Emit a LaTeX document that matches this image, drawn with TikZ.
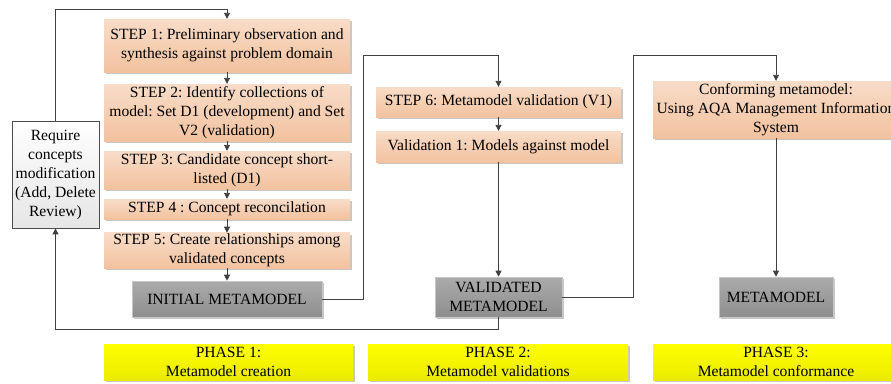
\documentclass[tikz,border=0pt]{standalone}
\usepackage{fontspec}
\setmainfont{Liberation Serif}
\frenchspacing
\usetikzlibrary{shadows,arrows.meta}
\definecolor{peachT}{HTML}{F8DCC8}
\definecolor{peachB}{HTML}{F2C29F}
\definecolor{grayT}{HTML}{ABABAB}
\definecolor{grayB}{HTML}{8E8E8E}
\definecolor{lineC}{HTML}{404040}
\tikzset{
  every node/.style={font=\fontsize{15.6}{19}\selectfont, align=center, inner sep=1pt},
  shd/.style={drop shadow={shadow xshift=1.6pt, shadow yshift=-1.6pt, opacity=0.22, fill=black}},
  stepbox/.style={shd, top color=peachT, bottom color=peachB, draw=none},
  graybox/.style={shd, top color=grayT, bottom color=grayB, draw=black!22, line width=0.6pt},
  phasebox/.style={shd, top color=yellow, bottom color=yellow!92!black, draw=none},
  modbox/.style={top color=white, bottom color=black!10, draw=black!70, line width=0.8pt},
  arr/.style={draw=lineC, line width=0.9pt, -{Triangle[length=6pt,width=6pt]}},
  ln/.style={draw=lineC, line width=0.9pt},
}
\begin{document}
\begin{tikzpicture}[x=1pt,y=-1pt]
\useasboundingbox (0,0) rectangle (891,383);
\clip (0,0) rectangle (891,383);
% phase 1
\node[stepbox, minimum width=246pt, minimum height=53pt] (s1) at (227,45.5) {STEP 1: Preliminary observation and\\synthesis against problem domain};
\node[stepbox, minimum width=246pt, minimum height=57pt] (s2) at (227,112.5) {STEP 2: Identify collections of\\model: Set D1 (development) and Set\\V2 (validation)};
\node[stepbox, minimum width=246pt, minimum height=38pt] (s3) at (227,170) {STEP 3: Candidate concept short-\\listed (D1)};
\node[stepbox, minimum width=246pt, minimum height=20pt] (s4) at (227,209) {STEP 4 : Concept reconcilation};
\node[stepbox, minimum width=246pt, minimum height=33pt] (s5) at (227,250.5) {STEP 5: Create relationships among\\validated concepts};
\node[graybox, minimum width=190pt, minimum height=36pt] (init) at (227,299) {INITIAL METAMODEL};
\node[modbox, minimum width=87pt, minimum height=107pt] (lb) at (55.5,174.5) {Require\\concepts\\modification\\(Add, Delete\\Review)};
% phase 2
\node[stepbox, minimum width=245pt, minimum height=30pt] (s6) at (498.5,102) {STEP 6: Metamodel validation (V1)};
\node[stepbox, minimum width=245pt, minimum height=31pt] (v1) at (498.5,146.5) {Validation 1: Models against model};
\node[graybox, minimum width=127pt, minimum height=40pt] (val) at (498.5,297) {VALIDATED\\METAMODEL};
% phase 3
\node[stepbox, minimum width=246pt, minimum height=57pt] (conf) at (776,109.5) {Conforming metamodel:\\Using AQA Management Information\\System};
\node[graybox, minimum width=114pt, minimum height=40pt] (meta) at (776,297) {METAMODEL};
% phase labels
\node[phasebox, minimum width=249pt, minimum height=36pt] (p1) at (228.5,362) {PHASE 1:\\Metamodel creation};
\node[phasebox, minimum width=260pt, minimum height=36pt] (p2) at (498,362) {PHASE 2:\\Metamodel validations};
\node[phasebox, minimum width=246pt, minimum height=36pt] (p3) at (776,362) {PHASE 3:\\Metamodel conformance};
% helper coordinates
\coordinate (top1) at (0,9);
\coordinate (bot1) at (0,329);
\coordinate (c1) at (363,55);
\coordinate (c2) at (633,55);
% connectors
\draw[arr] (s1) -- (s2);
\draw[arr] (s2) -- (s3);
\draw[arr] (s3) -- (s4);
\draw[arr] (s4) -- (s5);
\draw[arr] (s5) -- (init);
\draw[arr] (lb.north) -- (lb.north |- top1) -| (s1.north);
\draw[arr] (val.south) -- (val.south |- bot1) -| (lb.south);
\draw[arr] (init.east) -| (c1) -| (s6.north);
\draw[arr] (s6) -- (v1);
\draw[arr] (v1) -- (val);
\draw[arr] (val.east) -| (c2) -| (conf.north);
\draw[arr] (conf) -- (meta);
\end{tikzpicture}
\end{document}
